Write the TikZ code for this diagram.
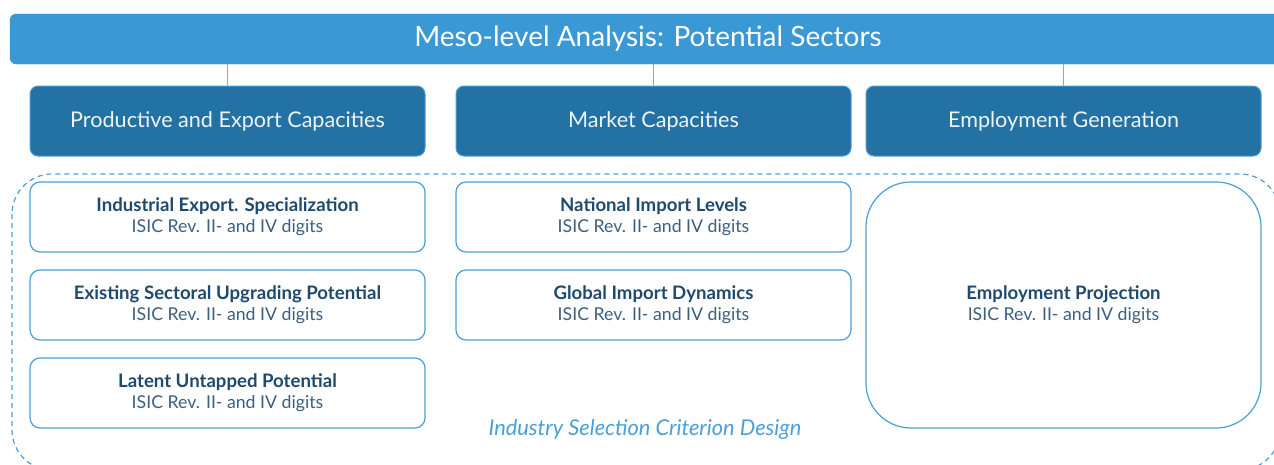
\documentclass[tikz,border=0pt]{standalone}
\usepackage{fontspec}
\setmainfont{Lato}
\usepackage{xcolor}
\definecolor{barblue}{HTML}{3A98D4}
\definecolor{hdrblue}{HTML}{2471A3}
\definecolor{lineblue}{HTML}{4A9FDA}
\definecolor{navy}{HTML}{1D4A6E}
\definecolor{subgrey}{HTML}{3D6080}

\tikzset{
  titlebar/.style={fill=barblue, draw=barblue, rounded corners=6pt, minimum width=1276pt, minimum height=50pt, text=white, font=\fontsize{28}{32}\selectfont},
  hdrbox/.style={fill=hdrblue, draw=lineblue, line width=1pt, rounded corners=8pt, minimum width=395pt, minimum height=70pt, text=white!92!hdrblue, font=\fontsize{21.6}{24}\selectfont},
  critbox/.style={draw=lineblue, line width=1.2pt, fill=white, rounded corners=10pt, minimum width=395pt, minimum height=70pt, align=center, text=subgrey, font=\fontsize{17.7}{21}\selectfont},
  link/.style={draw=lineblue!80, line width=0.8pt}
}
\newcommand{\crit}[1]{{\fontsize{18.6}{21}\selectfont\bfseries\color{navy}#1}\\[0pt]ISIC Rev. II- and IV digits}

\begin{document}
\begin{tikzpicture}[x=1pt, y=-1pt]
  % \draw[help lines, gray!50, very thin] (0,0) grid[step=50] (1274,464);
  \useasboundingbox (0,0) rectangle (1274,464);

  % dashed frame round the criteria
  \draw[lineblue, line width=1.2pt, dash pattern=on 5pt off 4pt, rounded corners=40pt] (12,174) rectangle (1280,470);

  \node[titlebar] (meso) at (648,39) {Meso-level Analysis: Potential Sectors};

  \node[hdrbox] (prod) at (227.5,121) {Productive and Export Capacities};
  \node[hdrbox] (mkt) at (653.5,121) {Market Capacities};
  \node[hdrbox] (emp) at (1063.5,121) {Employment Generation};

  \draw[link] (meso.south -| prod.north) -- (prod.north);
  \draw[link] (meso.south -| mkt.north) -- (mkt.north);
  \draw[link] (meso.south -| emp.north) -- (emp.north);

  \node[critbox] (spec) at (227.5,217) {\crit{Industrial Export. Specialization}};
  \node[critbox] (upgr) at (227.5,305) {\crit{Existing Sectoral Upgrading Potential}};
  \node[critbox] (latent) at (227.5,393) {\crit{Latent Untapped Potential}};
  \node[critbox] (natimp) at (653.5,217) {\crit{National Import Levels}};
  \node[critbox] (globimp) at (653.5,305) {\crit{Global Import Dynamics}};
  \node[critbox, minimum height=246pt, rounded corners=45pt] (proj) at (1063.5,305) {\crit{Employment Projection}};

  \node[text=lineblue, font=\fontsize{21.8}{24}\selectfont\itshape] (design) at (645,429) {Industry Selection Criterion Design};
\end{tikzpicture}
\end{document}
